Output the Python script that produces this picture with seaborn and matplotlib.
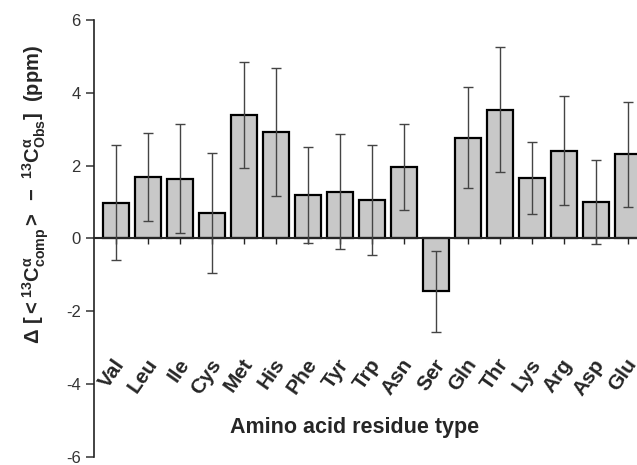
import numpy as np
import pandas as pd
import matplotlib
matplotlib.use("Agg")
import matplotlib.pyplot as plt
import matplotlib.transforms as mtransforms
import seaborn as sns

# data
residues = ["Val", "Leu", "Ile", "Cys", "Met", "His", "Phe", "Tyr", "Trp",
            "Asn", "Ser", "Gln", "Thr", "Lys", "Arg", "Asp", "Glu"]
delta = [0.98, 1.69, 1.64, 0.71, 3.40, 2.92, 1.19, 1.29, 1.06,
         1.96, -1.45, 2.77, 3.54, 1.67, 2.41, 1.01, 2.31]
err = [1.58, 1.20, 1.50, 1.65, 1.46, 1.75, 1.32, 1.58, 1.52,
       1.18, 1.12, 1.39, 1.72, 0.99, 1.50, 1.15, 1.45]
yticks = [-6, -4, -2, 0, 2, 4, 6]

df = pd.DataFrame({"residue": residues, "delta": delta, "err": err})

sns.set_style("ticks")
plt.rcParams["font.family"] = ["Liberation Sans", "DejaVu Sans"]
plt.rcParams["mathtext.fontset"] = "custom"
plt.rcParams["mathtext.rm"] = "Liberation Sans:bold"
plt.rcParams["mathtext.it"] = "Liberation Sans:bold"
plt.rcParams["mathtext.bf"] = "Liberation Sans:bold"
plt.rcParams["mathtext.default"] = "rm"

fig = plt.figure(figsize=(6.37, 4.65), dpi=100)
ax = fig.add_axes([0.1476, 0.0172, 0.8524, 0.9398])

sns.barplot(data=df, x="residue", y="delta", color="#c8c8c8", saturation=1,
            edgecolor="black", linewidth=1.6, width=0.8, ax=ax)
ax.errorbar(np.arange(len(residues)), df["delta"], yerr=df["err"], fmt="none",
            ecolor="#444444", elinewidth=1.0, capsize=3.5, capthick=1.0, zorder=5)

ax.set_ylim(-6, 6)
ax.set_xlim(-0.69, len(residues) - 1 + 0.29)
ax.set_yticks(yticks)
ax.set_yticklabels([str(t) for t in yticks], fontsize=12, color="#333333")

ax.spines["right"].set_visible(False)
ax.spines["top"].set_visible(False)
ax.spines["bottom"].set_position(("data", 0))
ax.spines["bottom"].set_linewidth(1.5)
ax.spines["left"].set_linewidth(1.2)
ax.spines["left"].set_color("#222222")
ax.tick_params(axis="y", direction="out", length=6, width=1.1, colors="#333333")
ax.tick_params(axis="x", direction="out", length=4, width=1.0, pad=84)

ax.set_xticks(np.arange(len(residues)))
ax.set_xticklabels(residues, rotation=55, ha="right", va="center",
                   rotation_mode="anchor", fontsize=15, fontweight="bold")
# nudge the labels a little to the right, as in the original
shift = mtransforms.ScaledTranslation(5 / 100, 0, fig.dpi_scale_trans)
for lab in ax.get_xticklabels():
    lab.set_transform(lab.get_transform() + shift)

ax.set_xlabel("")
fig.text(0.557, 0.08, "Amino acid residue type", ha="center", va="center",
         fontsize=15.5, fontweight="bold")

ax.set_ylabel(r"$\Delta\ [<^{13}C^{\alpha}_{comp}>\ -\ ^{13}C^{\alpha}_{Obs}]$  (ppm)",
              fontsize=14.5, fontweight="bold")
ax.yaxis.set_label_coords(-0.08, 0.6)

fig.savefig("out.png", dpi=100)
